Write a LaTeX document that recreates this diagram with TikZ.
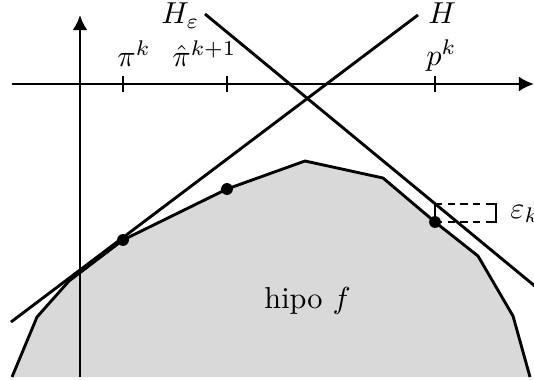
\documentclass[tikz,border=0pt]{standalone}
\usetikzlibrary{arrows.meta}
\begin{document}
\begin{tikzpicture}[x=0.33pt,y=-0.33pt,line width=0.95pt,
  axis/.style={-{Latex[length=5pt,width=5pt]}},
  lbl/.style={inner sep=0pt,anchor=base west},
  dotnode/.style={circle,fill=black,inner sep=0pt,minimum size=3.9pt},
  hypofill/.style={fill=black!15},
  boxdash/.style={dash pattern=on 2.4pt off 1.8pt}]
\useasboundingbox (0,0) rectangle (534,380);
% polygon vertices
\coordinate (v0) at (12,377);
\coordinate (v1) at (37,317);
\coordinate (v2) at (69,281);
\coordinate (v3) at (123,240);
\coordinate (v4) at (227,189);
\coordinate (v5) at (305,161);
\coordinate (v6) at (383,178);
\coordinate (v7) at (435,222);
\coordinate (v8) at (478,256);
\coordinate (v9) at (513,316);
\coordinate (v10) at (530,377);
\fill[hypofill] (v0) -- (v1) -- (v2) -- (v3) -- (v4) -- (v5) -- (v6) -- (v7) -- (v8) -- (v9) -- (v10) -- cycle;
\draw[line join=round] (v0) -- (v1) -- (v2) -- (v3) -- (v4) -- (v5) -- (v6) -- (v7) -- (v8) -- (v9) -- (v10);
% axes
\coordinate (xa) at (12,84);
\coordinate (xb) at (534,84);
\coordinate (ya) at (80,377);
\coordinate (yb) at (80,15);
\draw[axis] (ya) -- (yb);
\draw[axis] (xa) -- (xb);
% ticks
\coordinate (t1a) at (123,76); \coordinate (t1b) at (123,92);
\coordinate (t2a) at (227,76); \coordinate (t2b) at (227,92);
\coordinate (t3a) at (435,76); \coordinate (t3b) at (435,92);
\draw (t1a) -- (t1b);
\draw (t2a) -- (t2b);
\draw (t3a) -- (t3b);
% lines H and H_eps
\coordinate (h1) at (11,322);
\coordinate (h2) at (418,15);
\coordinate (e1) at (205,14);
\coordinate (e2) at (536,287);
\draw (h1) -- (h2);
\draw (e1) -- (e2);
% epsilon box
\coordinate (bt) at (435,204);
\coordinate (btr) at (490,204);
\coordinate (bbr) at (490,222);
\coordinate (rt) at (496,204);
\coordinate (rb) at (496,222);
\draw (bt) -- (v7);
\draw[boxdash] (bt) -- (btr);
\draw[boxdash] (v7) -- (bbr);
\draw (btr) -- (rt) -- (rb) -- (bbr);
% dots
\node[dotnode] (d1) at (v3) {};
\node[dotnode] (d2) at (v4) {};
\node[dotnode] (d3) at (v7) {};
% labels
\node[lbl] (lpi) at (116,66.5) {$\pi^k$};
\node[lbl] (lpihat) at (171,66.5) {$\hat\pi^{k+1}$};
\node[lbl] (lp) at (425,66) {$p^k$};
\node[lbl] (lhe) at (160,24) {$H_\varepsilon$};
\node[lbl] (lh) at (427,24) {$H$};
\node[lbl] (lhipo) at (263,308) {hipo $f$};
\node[lbl] (leps) at (509,218) {$\varepsilon_k$};
\end{tikzpicture}
\end{document}
